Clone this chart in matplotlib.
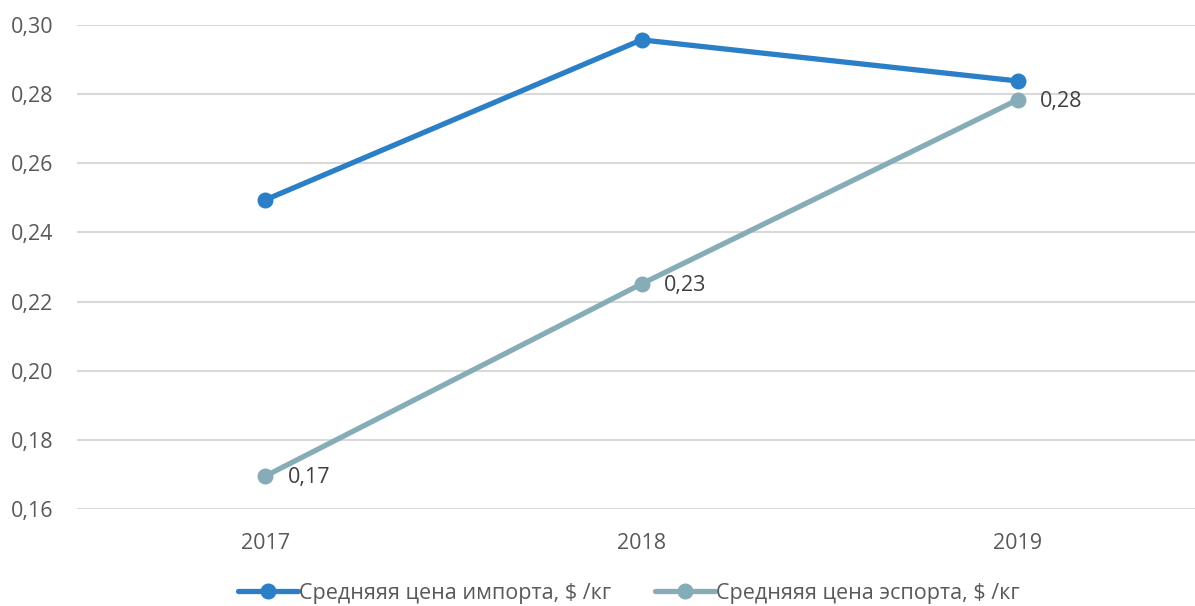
import matplotlib.pyplot as plt

years = ["2017", "2018", "2019"]
import_price = [0.2494, 0.2957, 0.2838]
export_price = [0.1695, 0.2251, 0.2784]
export_labels = ["0,17", "0,23", "0,28"]
y_ticks = [0.16, 0.18, 0.20, 0.22, 0.24, 0.26, 0.28, 0.30]
y_tick_labels = ["0,16", "0,18", "0,20", "0,22", "0,24", "0,26", "0,28", "0,30"]

import_name = "Средняяя цена импорта, $ /кг"
export_name = "Средняяя цена эспорта, $ /кг"


def main():
    plt.rcParams['font.family'] = ['Open Sans', 'DejaVu Sans']
    text_color = "#595959"
    blue = "#2A7FC6"
    teal = "#86ADB7"
    fs = 15.5

    fig = plt.figure(figsize=(11.95, 6.06), dpi=100)
    ax = fig.add_axes([77 / 1195, 97 / 606, 1129 / 1195, 484 / 606])

    x = list(range(len(years)))
    ax.plot(x, import_price, color=blue, lw=3.8, marker='o', ms=10.5,
            label=import_name, solid_capstyle='round', zorder=3)
    ax.plot(x, export_price, color=teal, lw=3.8, marker='o', ms=10.5,
            label=export_name, solid_capstyle='round', zorder=3)

    for xi, yi, lab in zip(x, export_price, export_labels):
        ax.annotate(lab, (xi, yi), xytext=(16, -1), textcoords='offset points',
                    ha='left', va='center', fontsize=fs, color="#404040")

    ax.set_xlim(-0.5, 2.5)
    ax.set_ylim(0.16, 0.30)
    ax.set_xticks(x)
    ax.set_xticklabels(years)
    ax.set_yticks(y_ticks)
    ax.set_yticklabels(y_tick_labels)
    ax.tick_params(axis='both', length=0, labelsize=fs, labelcolor=text_color)
    ax.tick_params(axis='y', pad=17)
    ax.tick_params(axis='x', pad=17)
    ax.yaxis.grid(True, color="#D9D9D9", lw=1.5)
    ax.set_axisbelow(True)
    for s in ax.spines.values():
        s.set_visible(False)

    fig.legend(loc='center', bbox_to_anchor=(629 / 1195, 13 / 606), ncol=2,
               frameon=False, fontsize=fs, labelcolor=text_color,
               handlelength=2.8, handletextpad=0.05, columnspacing=2.0)

    fig.savefig("out.png", dpi=100)


if __name__ == "__main__":
    main()
